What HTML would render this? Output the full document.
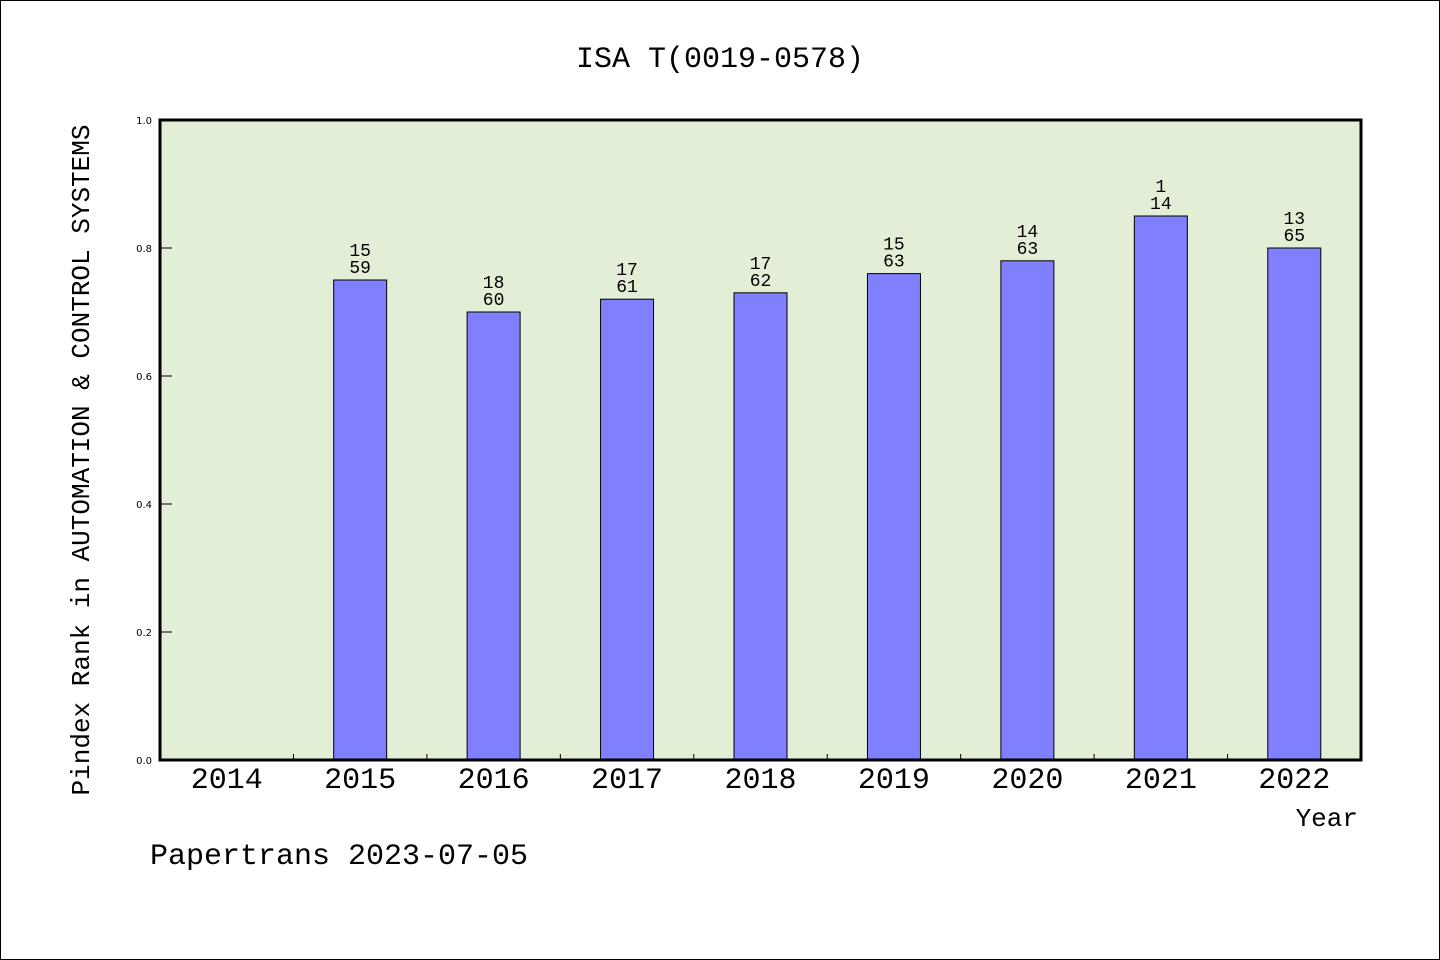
<!DOCTYPE html>
<html><head><meta charset="utf-8"><style>
body{margin:0;background:#fff}
svg{display:block}
.m{font-family:"WenQuanYi Zen Hei","Liberation Mono",monospace}
.s{font-family:"DejaVu Sans","Liberation Sans",sans-serif}
</style></head><body>
<svg id="c" width="1440" height="960" xmlns="http://www.w3.org/2000/svg">
<rect x="0.5" y="0.5" width="1439" height="959" fill="#fff" stroke="#000"/>
<text class="m" x="720" y="67" font-size="30" text-anchor="middle">ISA T(0019-0578)</text>
<rect x="160" y="120" width="1201" height="640" fill="#e2efd6"/>
<g id="marks"></g>
<rect x="160" y="120" width="1201" height="640" fill="none" stroke="#000" stroke-width="3"/>
<text class="m" x="1358" y="826" font-size="26" text-anchor="end">Year</text>
<text class="m" transform="translate(89,460) rotate(-90)" font-size="26" text-anchor="middle">Pindex Rank in AUTOMATION &amp; CONTROL SYSTEMS</text>
<text class="m" x="150" y="864" font-size="30">Papertrans 2023-07-05</text>
</svg>
<script>
const categories=["2014","2015","2016","2017","2018","2019","2020","2021","2022"];
const values=[null,0.75,0.70,0.72,0.73,0.76,0.78,0.85,0.80];
const ranks=[null,"15","18","17","17","15","14","1","13"];
const totals=[null,"59","60","61","62","63","63","14","65"];
const yTicks=[0,0.2,0.4,0.6,0.8,1.0];
const yTickLabels=["0.0","0.2","0.4","0.6","0.8","1.0"];
const NS="http://www.w3.org/2000/svg";
const X0=160,X1=1361,Y0=760,Y1=120;
const slot=(X1-X0)/categories.length;
const xC=i=>X0+slot*(i+0.5);
const y=v=>Y0-(v-0)/(1-0)*(Y0-Y1);
const g=document.getElementById('marks');
function mk(t,a){const e=document.createElementNS(NS,t);for(const k in a)e.setAttribute(k,a[k]);g.appendChild(e);return e;}
yTicks.forEach((v,i)=>{
 const l=mk('line',{x1:X0,x2:X0+12,y1:y(v),y2:y(v),stroke:'#000'});
 
 
 const t=mk('text',{x:X0-8,y:y(v)+4,'font-size':10,'text-anchor':'end',class:'s'});
 t.textContent=yTickLabels[i];
 
 
});
categories.forEach((c,i)=>{
 if(i>0){const tk=mk('line',{x1:X0+slot*i,x2:X0+slot*i,y1:Y0,y2:Y0-6,stroke:'#000'});
 
 }
 const t=mk('text',{x:xC(i),y:788,'font-size':30,'text-anchor':'middle',class:'m'});
 t.textContent=c;
 
 
 if(values[i]==null)return;
 const bw=53,top=y(values[i]);
 const b=mk('rect',{x:xC(i)-bw/2,y:top,width:bw,height:Y0-top,fill:'#8080ff',stroke:'#000'});
 
 
 const r=mk('text',{x:xC(i),y:top-24,'font-size':18,'text-anchor':'middle',class:'m'});
 r.textContent=ranks[i];
 
 
 const n=mk('text',{x:xC(i),y:top-7,'font-size':18,'text-anchor':'middle',class:'m'});
 n.textContent=totals[i];
 
 
});
</script>
</body></html>
